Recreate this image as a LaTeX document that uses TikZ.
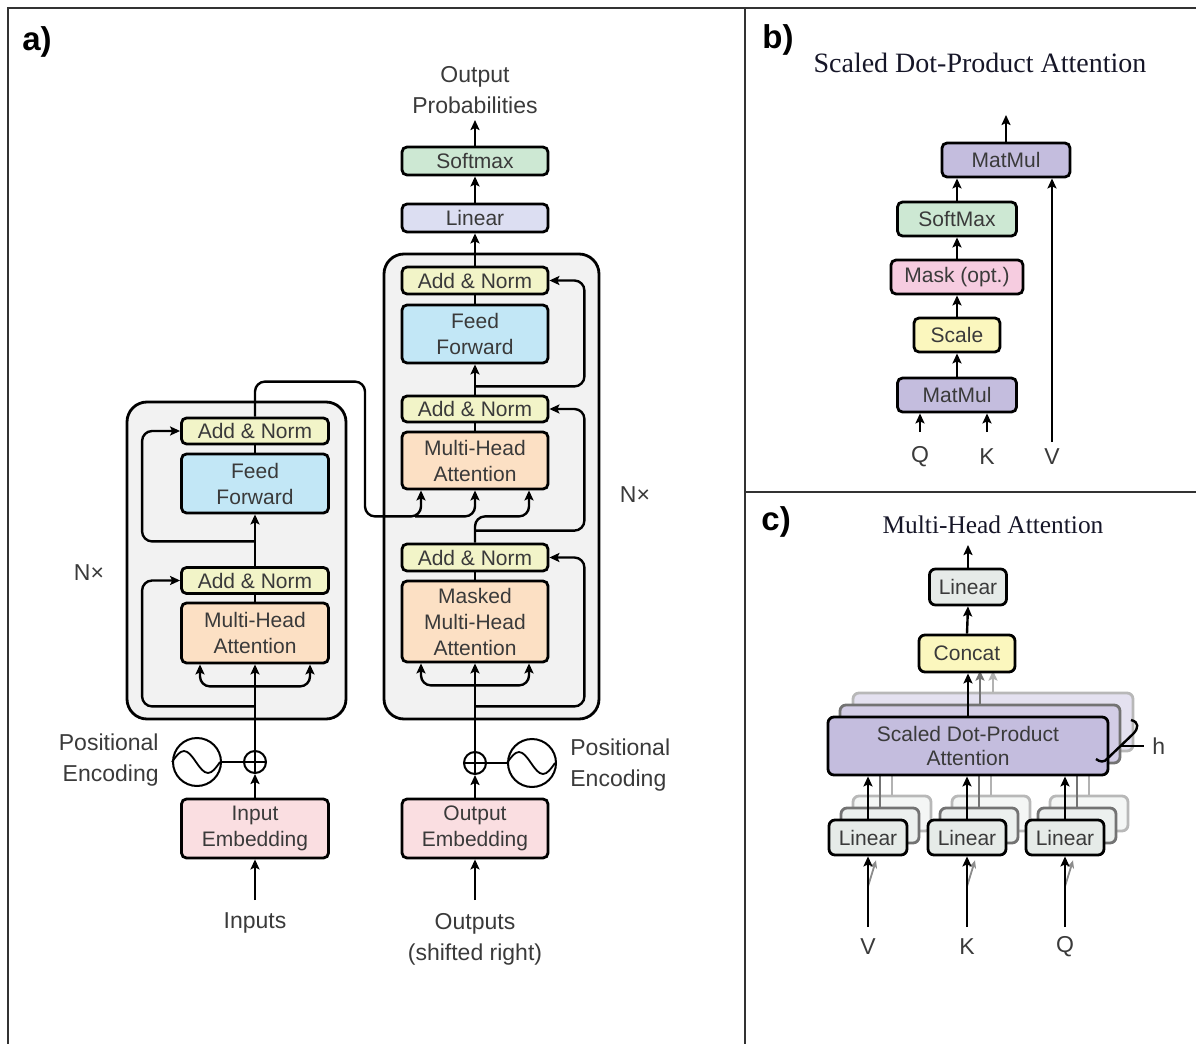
\documentclass[tikz,border=0pt]{standalone}
\usepackage{fontspec}
\setmainfont{Liberation Sans}
\newfontfamily\titlefont{Liberation Serif}
\usetikzlibrary{arrows.meta,calc}

\definecolor{txt}{RGB}{58,58,58}
\definecolor{ttl}{RGB}{22,22,40}
\definecolor{addnorm}{RGB}{242,244,200}
\definecolor{ffwd}{RGB}{194,231,246}
\definecolor{attn}{RGB}{252,224,196}
\definecolor{embed}{RGB}{250,222,225}
\definecolor{smax}{RGB}{205,232,211}
\definecolor{lin}{RGB}{220,222,242}
\definecolor{stackfill}{RGB}{242,242,242}
\definecolor{matmul}{RGB}{196,189,222}
\definecolor{maskc}{RGB}{246,204,224}
\definecolor{scalec}{RGB}{251,247,190}
\definecolor{linc}{RGB}{230,235,232}
\definecolor{framec}{RGB}{50,50,50}

\newcommand\boxfont{\fontsize{10.5}{13}\selectfont}
\newcommand\lblfont{\fontsize{11.5}{15.5}\selectfont}

\begin{document}
\begin{tikzpicture}[x=0.5pt,y=-0.5pt,
  blk/.style={draw=black, line width=1.4pt, rounded corners=2.5pt, inner sep=0pt,
              align=center, text=txt, font=\boxfont},
  stackbox/.style={draw=black, line width=1.4pt, fill=stackfill, rounded corners=10pt, inner sep=0pt},
  arr/.style={line width=1.2pt, -{Stealth[length=5pt,width=4.5pt,inset=1pt]}},
  ln/.style={line width=1.2pt},
  rc/.style={rounded corners=5pt},
  lbl/.style={text=txt, font=\lblfont, align=center, inner sep=0pt},
  plusc/.style={circle, draw=black, line width=1pt, minimum size=11pt, inner sep=0pt, fill=white},
  pec/.style={circle, draw=black, line width=1pt, minimum size=24pt, inner sep=0pt},
  panel/.style={font=\fontsize{16.5}{16.5}\selectfont\bfseries, text=black, inner sep=0pt, anchor=west},
  shadow1/.style={draw=black!55, fill=#1!75, line width=1.4pt, rounded corners=3pt, inner sep=0pt},
  shadow2/.style={draw=black!28, fill=#1!45, line width=1.4pt, rounded corners=3pt, inner sep=0pt},
]
\useasboundingbox (0,0) rectangle (1196,1044);

% frame and dividers
\draw[line width=1pt, framec] (8,1044) -- (8,8) -- (1196,8);
\draw[line width=1pt, framec] (745,8) -- (745,1044);
\draw[line width=1pt, framec] (745,492) -- (1196,492);

\node[panel] (pa) at (22,42) {a)};
\node[panel] (pb) at (762,40) {b)};
\node[panel] (pc) at (761,522) {c)};

% ---------------- encoder / decoder stacks ----------------
\node[stackbox, minimum width=109.5pt, minimum height=158.5pt] (encStack) at (236.5,560.5) {};
\node[stackbox, minimum width=107.5pt, minimum height=232.5pt] (decStack) at (491.5,486.5) {};

% encoder blocks
\node[blk, fill=addnorm, minimum width=73.5pt, minimum height=13pt]   (encAN2) at (255,431)   {Add \& Norm};
\node[blk, fill=ffwd,    minimum width=73.5pt, minimum height=29.5pt] (encFF)  at (255,483.5) {Feed\\Forward};
\node[blk, fill=addnorm, minimum width=73.5pt, minimum height=13pt]   (encAN1) at (255,580.5) {Add \& Norm};
\node[blk, fill=attn,    minimum width=73.5pt, minimum height=30pt]   (encMHA) at (255,633)   {Multi-Head\\Attention};
\node[blk, fill=embed,   minimum width=73.5pt, minimum height=29.5pt] (inEmb)  at (255,828.5) {Input\\Embedding};

% decoder blocks
\node[blk, fill=smax,    minimum width=73pt, minimum height=14pt]   (decSoft) at (475,161)   {Softmax};
\node[blk, fill=lin,     minimum width=73pt, minimum height=14pt]   (decLin)  at (475,218)   {Linear};
\node[blk, fill=addnorm, minimum width=73pt, minimum height=13.5pt] (decAN3)  at (475,280.5) {Add \& Norm};
\node[blk, fill=ffwd,    minimum width=73pt, minimum height=29pt]   (decFF)   at (475,334)   {Feed\\Forward};
\node[blk, fill=addnorm, minimum width=73pt, minimum height=13pt]   (decAN2)  at (475,409)   {Add \& Norm};
\node[blk, fill=attn,    minimum width=73pt, minimum height=28.5pt] (decMHA)  at (475,460.5) {Multi-Head\\Attention};
\node[blk, fill=addnorm, minimum width=73pt, minimum height=13.5pt] (decAN1)  at (475,557.5) {Add \& Norm};
\node[blk, fill=attn,    minimum width=73pt, minimum height=40.5pt] (decMMHA) at (475,621.5) {Masked\\Multi-Head\\Attention};
\node[blk, fill=embed,   minimum width=73pt, minimum height=29.5pt] (outEmb)  at (475,828.5) {Output\\Embedding};

% positional encodings
\node[plusc] (encPlus) at (255,762) {};
\draw[line width=0.9pt] (encPlus.north) -- (encPlus.south) (encPlus.west) -- (encPlus.east);
\node[pec] (encPE) at (197,762) {};
\draw[line width=0.9pt] (encPE.west) sin ++(12,-11) cos ++(12,11) sin ++(12,11) cos ++(12,-11);
\draw[ln] (encPE.east) -- (encPlus.west);

\node[plusc] (decPlus) at (475,763) {};
\draw[line width=0.9pt] (decPlus.north) -- (decPlus.south) (decPlus.west) -- (decPlus.east);
\node[pec] (decPE) at (532,763) {};
\draw[line width=0.9pt] (decPE.west) sin ++(12,-11) cos ++(12,11) sin ++(12,11) cos ++(12,-11);
\draw[ln] (decPlus.east) -- (decPE.west);

% labels
\node[lbl, align=right, anchor=east] (encPElbl) at (159,760.5) {Positional\\Encoding};
\node[lbl, align=left, anchor=west]  (decPElbl) at (570,765)   {Positional\\Encoding};
\node[lbl] (encN) at (89,573) {N×};
\node[lbl] (decN) at (635,495) {N×};
\node[lbl] (inputs)  at (255,923) {Inputs};
\node[lbl] (outputs) at (475,939) {Outputs\\(shifted right)};
\node[lbl] (outProb) at (475,90)  {Output\\Probabilities};
\coordinate (inTail)  at (255,900);
\coordinate (outTail) at (475,900);
\coordinate (probTip) at (475,120);

% encoder connectors
\draw[arr] (inTail) -- (inEmb.south);
\draw[arr] (inEmb.north) -- (encPlus.south);
\draw[arr] (encPlus.north) -- (encMHA.south);
\draw[arr, rc] ($(encMHA.south)+(0,22)$) -| ($(encMHA.south)+(-55,0)$);
\draw[arr, rc] ($(encMHA.south)+(0,22)$) -| ($(encMHA.south)+(55,0)$);
\draw[arr, rc] ($(encMHA.south)+(0,42)$) -| ($(encAN1.west)+(-38,0)$) -- (encAN1.west);
\draw[ln] (encMHA.north) -- (encAN1.south);
\draw[arr] (encAN1.north) -- (encFF.south);
\draw[arr, rc] ($(encFF.south)+(0,27)$) -| ($(encAN2.west)+(-38,0)$) -- (encAN2.west);
\draw[ln] (encFF.north) -- (encAN2.south);

% encoder output into decoder attention
\draw[arr, rc] (encAN2.north) -- ++(0,-35) -| ($(decMHA.south)+(-110,26)$) -| ($(decMHA.south)+(-54,0)$);
\draw[arr, rc] ($(decMHA.south)+(-60,26)$) -| (decMHA.south);

% decoder connectors
\draw[arr] (outTail) -- (outEmb.south);
\draw[arr] (outEmb.north) -- (decPlus.south);
\draw[arr] (decPlus.north) -- (decMMHA.south);
\draw[arr, rc] ($(decMMHA.south)+(0,22)$) -| ($(decMMHA.south)+(-54,0)$);
\draw[arr, rc] ($(decMMHA.south)+(0,22)$) -| ($(decMMHA.south)+(54,0)$);
\draw[arr, rc] ($(decMMHA.south)+(0,43)$) -| ($(decAN1.east)+(35,0)$) -- (decAN1.east);
\draw[ln] (decMMHA.north) -- (decAN1.south);
\draw[arr, rc] (decAN1.north) |- ($(decMHA.south)+(30,26)$) -| ($(decMHA.south)+(54,0)$);
\draw[arr, rc] ($(decAN1.north)+(0,-12)$) -| ($(decAN2.east)+(35,0)$) -- (decAN2.east);
\draw[ln] (decMHA.north) -- (decAN2.south);
\draw[arr] (decAN2.north) -- (decFF.south);
\draw[arr, rc] ($(decFF.south)+(0,22)$) -| ($(decAN3.east)+(35,0)$) -- (decAN3.east);
\draw[ln] (decFF.north) -- (decAN3.south);
\draw[arr] (decAN3.north) -- (decLin.south);
\draw[arr] (decLin.north) -- (decSoft.south);
\draw[arr] (decSoft.north) -- (probTip);

% ---------------- scaled dot-product attention ----------------
\node[font=\titlefont\fontsize{14}{14}\selectfont, text=ttl, inner sep=0pt] (ttlB) at (980,63) {Scaled Dot-Product Attention};
\node[blk, fill=matmul, minimum width=64pt,   minimum height=17pt] (bMM2)   at (1006,160) {MatMul};
\node[blk, fill=smax,   minimum width=59.5pt, minimum height=17pt] (bSM)    at (957,219)  {SoftMax};
\node[blk, fill=maskc,  minimum width=66pt,   minimum height=17pt] (bMask)  at (957,277)  {Mask (opt.)};
\node[blk, fill=scalec, minimum width=43pt,   minimum height=17pt] (bScale) at (957,335)  {Scale};
\node[blk, fill=matmul, minimum width=59.5pt, minimum height=17pt] (bMM1)   at (957,395)  {MatMul};
\node[lbl] (bQ) at (920,457)  {Q};
\node[lbl] (bK) at (987,457)  {K};
\node[lbl] (bV) at (1052,457) {V};
\coordinate (bQt) at (920,432);
\coordinate (bKt) at (987,432);
\coordinate (bVt) at (1052,442);
\coordinate (bOut) at (1006,115);
\draw[arr] (bQt) -- (bQt |- bMM1.south);
\draw[arr] (bKt) -- (bKt |- bMM1.south);
\draw[arr] (bMM1.north) -- (bScale.south);
\draw[arr] (bScale.north) -- (bMask.south);
\draw[arr] (bMask.north) -- (bSM.south);
\draw[arr] (bSM.north) -- (bSM.north |- bMM2.south);
\draw[arr] (bVt) -- (bVt |- bMM2.south);
\draw[arr] (bMM2.north) -- (bOut);

% ---------------- multi-head attention ----------------
\node[font=\titlefont\fontsize{12.7}{12.7}\selectfont, text=ttl, inner sep=0pt] (ttlC) at (993,525) {Multi-Head Attention};

% stacked copies behind the front layer
\node[shadow2=matmul, minimum width=140pt, minimum height=29pt] (cSD3) at (993,722) {};
\node[shadow1=matmul, minimum width=140pt, minimum height=29pt] (cSD2) at (980,734) {};
\foreach \n/\x in {V/868, K/967, Q/1065}{
  \node[shadow2=linc, minimum width=39pt, minimum height=17.5pt] (cL\n3) at (\x+24,813.5) {};
  \node[shadow1=linc, minimum width=39pt, minimum height=17.5pt] (cL\n2) at (\x+12,825.5) {};
  \draw[arr, black!30] (cL\n3.north) -- (cL\n3.north |- cSD3.south);
  \draw[arr, black!55] (cL\n2.north) -- (cL\n2.north |- cSD2.south);
}
\draw[arr, black!30] (cSD3.north) -- ++(0,-21);
\draw[arr, black!55] (cSD2.north) -- ++(0,-33);

% front layer
\node[blk, fill=matmul, minimum width=140pt, minimum height=29pt, rounded corners=3pt,
      font=\fontsize{10.5}{12}\selectfont] (cSD) at (968,746) {Scaled Dot-Product\\Attention};
\node[blk, fill=scalec, minimum width=48pt,   minimum height=18.5pt, rounded corners=3pt] (cCat) at (967,653.5) {Concat};
\node[blk, fill=linc,   minimum width=38.5pt, minimum height=18pt,   rounded corners=3pt] (cLin) at (968,587)   {Linear};
\node[blk, fill=linc, minimum width=39pt, minimum height=17.5pt, rounded corners=3pt] (cLV) at (868,837.5)  {Linear};
\node[blk, fill=linc, minimum width=39pt, minimum height=17.5pt, rounded corners=3pt] (cLK) at (967,837.5)  {Linear};
\node[blk, fill=linc, minimum width=39pt, minimum height=17.5pt, rounded corners=3pt] (cLQ) at (1065,837.5) {Linear};

\node[lbl] (cV) at (868,947)  {V};
\node[lbl] (cK) at (967,947)  {K};
\node[lbl] (cQ) at (1065,947) {Q};
\coordinate (cVt) at (868,927);
\coordinate (cKt) at (967,927);
\coordinate (cQt) at (1065,927);
\coordinate (cOut) at (968,545);

\foreach \n in {V,K,Q}{
  \draw[line width=0.9pt, black!45, -{Stealth[length=4pt,width=3.5pt]}]
    ($(cL\n.south)+(0,30)$) -- ($(cL\n.south)+(8,4)$);
  \draw[arr] (c\n t) -- (cL\n.south);
  \draw[arr] (cL\n.north) -- (cL\n.north |- cSD.south);
}
\draw[arr] (cSD.north) -- (cSD.north |- cCat.south);
\draw[arr] (cCat.north) -- (cLin.south);
\draw[arr] (cLin.north) -- (cOut);

% head count marker
\node[lbl, anchor=west] (cH) at (1152,746) {h};
\draw[line width=1pt] (1121,746) -- ($(cH.west)+(-8,0)$);
\draw[line width=1.2pt] (1131,720) .. controls (1139,722) and (1139,728) .. (1133,734)
  -- (1108,758) .. controls (1104,763) and (1100,762) .. (1096,759);
\end{tikzpicture}
\end{document}
